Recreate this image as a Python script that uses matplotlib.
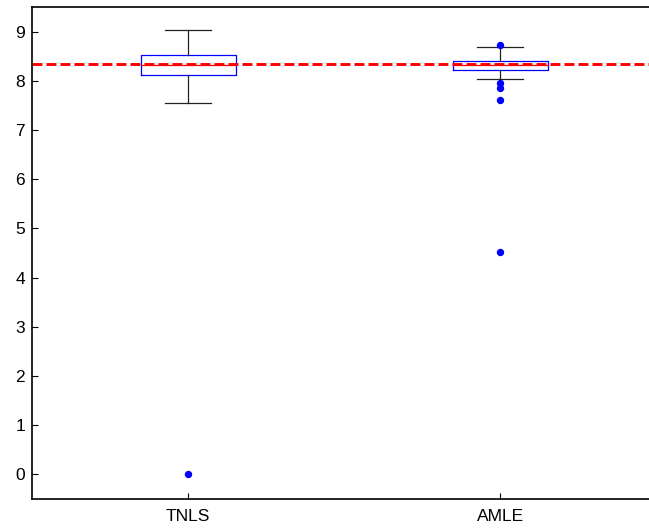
import matplotlib
matplotlib.use('Agg')
import matplotlib.pyplot as plt

# values
methods = ['TNLS', 'AMLE']
q1 = [8.11, 8.22]
med = [8.33, 8.33]
q3 = [8.53, 8.41]
whislo = [7.54, 8.03]
whishi = [9.04, 8.68]
fliers = [[0.0], [8.73, 7.95, 7.86, 7.60, 4.52]]
reference_value = 8.34

plt.rcParams['font.family'] = ['Liberation Sans', 'DejaVu Sans']

fig = plt.figure(figsize=(6.49, 5.29), dpi=100)
ax = fig.add_axes([32/649, 30/529, 624.5/649, 492/529])

stats = []
for i, name in enumerate(methods):
    stats.append({
        'label': name, 'q1': q1[i], 'med': med[i], 'q3': q3[i],
        'whislo': whislo[i], 'whishi': whishi[i], 'fliers': fliers[i],
    })

ax.bxp(stats, positions=[1, 2], widths=0.305, capwidths=0.148,
       boxprops=dict(color='blue', linewidth=0.9),
       whiskerprops=dict(color='#222222', linewidth=0.9),
       capprops=dict(color='#222222', linewidth=0.9),
       medianprops=dict(color='red', linewidth=0.9),
       flierprops=dict(marker='o', markerfacecolor='blue', markeredgecolor='blue',
                       markersize=4.3, linestyle='none'))

ax.axhline(reference_value, color='red', linewidth=2.1, linestyle=(0, (3.4, 1.4)))

ax.set_xlim(0.5, 2.5)
ax.set_ylim(-0.5, 9.5)
ax.set_yticks(range(10))
ax.set_xticks([1, 2])
ax.set_xticklabels(methods)
ax.tick_params(direction='in', length=4, width=0.8, labelsize=12.5, colors='black')
ax.tick_params(axis='x', pad=7)
ax.tick_params(axis='y', pad=5)
for s in ['left', 'top', 'bottom', 'right']:
    ax.spines[s].set_linewidth(1.2)

fig.savefig('out.png', dpi=100)
